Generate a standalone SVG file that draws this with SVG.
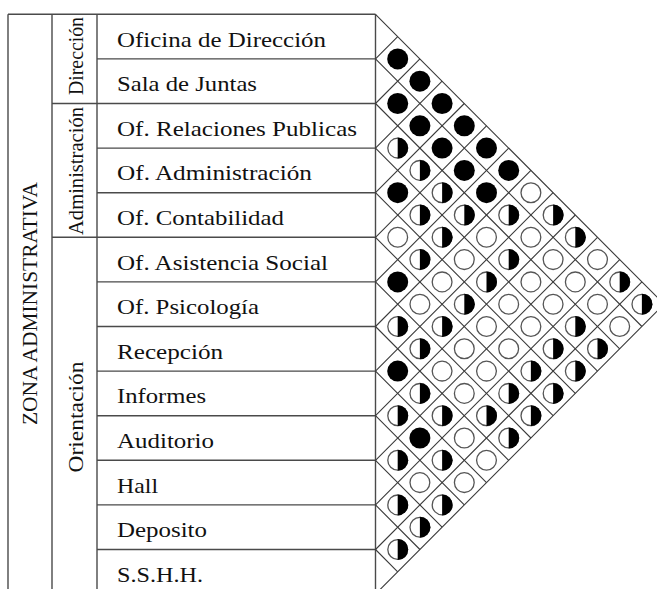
<svg xmlns="http://www.w3.org/2000/svg" xmlns:xlink="http://www.w3.org/1999/xlink" width="657" height="589" viewBox="0 0 657 589">
<style>
.tbl{stroke:#4a4a4a;stroke-width:1.4;fill:none}
.grid{stroke:#3a3a3a;stroke-width:1.1;fill:none}
.lbl{font-family:"Liberation Serif","Times New Roman",serif;font-size:21px;fill:#111}
.vl{font-family:"Liberation Serif","Times New Roman",serif;font-size:22px;fill:#111;text-anchor:middle}
</style>
<defs>
<g id="cb"><circle r="10.5" fill="#000"/></g>
<g id="co"><circle r="9.9" fill="#fff" stroke="#555" stroke-width="1.3"/></g>
<g id="ch"><circle r="9.9" fill="#fff" stroke="#555" stroke-width="1.3"/><path d="M0,-10.5 A10.5,10.5 0 0 1 0,10.5 Z" fill="#000"/></g>
</defs>
<rect width="657" height="589" fill="#fff"/>

<g id="table-frame" class="tbl">
<path d="M8,14.3V594 M52,14.3V594 M97,14.3V594 M375.5,14.3V594 M8,14.3H375.5"/>
<path d="M52,103.5H375.5 M52,237.3H375.5"/>
<path d="M97,58.9H375.5 M97,148.1H375.5 M97,192.7H375.5 M97,281.9H375.5 M97,326.5H375.5 M97,371.1H375.5 M97,415.7H375.5 M97,460.3H375.5 M97,504.9H375.5 M97,549.5H375.5"/>
</g>

<g id="zona"><text class="vl" transform="translate(37,303.5) rotate(-90)" textLength="243" lengthAdjust="spacingAndGlyphs">ZONA ADMINISTRATIVA</text></g>
<g id="grp-direccion"><text class="vl" transform="translate(83,56) rotate(-90)" textLength="78" lengthAdjust="spacingAndGlyphs">Dirección</text></g>
<g id="grp-administracion"><text class="vl" transform="translate(83,171) rotate(-90)" textLength="128" lengthAdjust="spacingAndGlyphs">Administración</text></g>
<g id="grp-orientacion"><text class="vl" transform="translate(83,417) rotate(-90)" textLength="111" lengthAdjust="spacingAndGlyphs">Orientación</text></g>

<g id="r0"><text class="lbl" x="117" y="46.6" textLength="209" lengthAdjust="spacingAndGlyphs">Oficina de Dirección</text></g>
<g id="r1"><text class="lbl" x="117" y="91.2" textLength="140" lengthAdjust="spacingAndGlyphs">Sala de Juntas</text></g>
<g id="r2"><text class="lbl" x="117" y="135.8" textLength="240" lengthAdjust="spacingAndGlyphs">Of. Relaciones Publicas</text></g>
<g id="r3"><text class="lbl" x="117" y="180.4" textLength="195" lengthAdjust="spacingAndGlyphs">Of. Administración</text></g>
<g id="r4"><text class="lbl" x="117" y="225" textLength="167" lengthAdjust="spacingAndGlyphs">Of. Contabilidad</text></g>
<g id="r5"><text class="lbl" x="117" y="269.6" textLength="211" lengthAdjust="spacingAndGlyphs">Of. Asistencia Social</text></g>
<g id="r6"><text class="lbl" x="117" y="314.2" textLength="142" lengthAdjust="spacingAndGlyphs">Of. Psicología</text></g>
<g id="r7"><text class="lbl" x="117" y="358.8" textLength="106" lengthAdjust="spacingAndGlyphs">Recepción</text></g>
<g id="r8"><text class="lbl" x="117" y="403.4" textLength="89" lengthAdjust="spacingAndGlyphs">Informes</text></g>
<g id="r9"><text class="lbl" x="117" y="448" textLength="97" lengthAdjust="spacingAndGlyphs">Auditorio</text></g>
<g id="r10"><text class="lbl" x="117" y="492.6" textLength="41" lengthAdjust="spacingAndGlyphs">Hall</text></g>
<g id="r11"><text class="lbl" x="117" y="537.2" textLength="90" lengthAdjust="spacingAndGlyphs">Deposito</text></g>
<g id="r12"><text class="lbl" x="117" y="581.8" textLength="86" lengthAdjust="spacingAndGlyphs">S.S.H.H.</text></g>

<g id="connectors" class="grid">
<path d="M375.5,14.3L664.1,304.2 M375.5,58.9L641.9,326.5 M375.5,103.5L619.7,348.8 M375.5,148.1L597.5,371.1 M375.5,192.7L575.3,393.4 M375.5,237.3L553.1,415.7 M375.5,281.9L530.9,438 M375.5,326.5L508.7,460.3 M375.5,371.1L486.5,482.6 M375.5,415.7L464.3,504.9 M375.5,460.3L442.1,527.2 M375.5,504.9L419.9,549.5 M375.5,549.5L397.7,571.8"/>
<path d="M375.5,58.9L397.7,36.6 M375.5,103.5L419.9,58.9 M375.5,148.1L442.1,81.2 M375.5,192.7L464.3,103.5 M375.5,237.3L486.5,125.8 M375.5,281.9L508.7,148.1 M375.5,326.5L530.9,170.4 M375.5,371.1L553.1,192.7 M375.5,415.7L575.3,215 M375.5,460.3L597.5,237.3 M375.5,504.9L619.7,259.6 M375.5,549.5L641.9,281.9 M375.5,594.1L664.1,304.2"/>
</g>

<g id="relations">
<use xlink:href="#cb" x="397.7" y="58.9"/>
<use xlink:href="#cb" x="419.9" y="81.2"/>
<use xlink:href="#cb" x="442.1" y="103.5"/>
<use xlink:href="#cb" x="464.3" y="125.8"/>
<use xlink:href="#cb" x="486.5" y="148.1"/>
<use xlink:href="#cb" x="508.7" y="170.4"/>
<use xlink:href="#co" x="530.9" y="192.7"/>
<use xlink:href="#ch" x="553.1" y="215"/>
<use xlink:href="#ch" x="575.3" y="237.3"/>
<use xlink:href="#co" x="597.5" y="259.6"/>
<use xlink:href="#ch" x="619.7" y="281.9"/>
<use xlink:href="#ch" x="641.9" y="304.2"/>

<use xlink:href="#cb" x="397.7" y="103.5"/>
<use xlink:href="#cb" x="419.9" y="125.8"/>
<use xlink:href="#cb" x="442.1" y="148.1"/>
<use xlink:href="#cb" x="464.3" y="170.4"/>
<use xlink:href="#cb" x="486.5" y="192.7"/>
<use xlink:href="#ch" x="508.7" y="215"/>
<use xlink:href="#co" x="530.9" y="237.3"/>
<use xlink:href="#co" x="553.1" y="259.6"/>
<use xlink:href="#co" x="575.3" y="281.9"/>
<use xlink:href="#co" x="597.5" y="304.2"/>
<use xlink:href="#co" x="619.7" y="326.5"/>

<use xlink:href="#ch" x="397.7" y="148.1"/>
<use xlink:href="#ch" x="419.9" y="170.4"/>
<use xlink:href="#ch" x="442.1" y="192.7"/>
<use xlink:href="#ch" x="464.3" y="215"/>
<use xlink:href="#co" x="486.5" y="237.3"/>
<use xlink:href="#ch" x="508.7" y="259.6"/>
<use xlink:href="#co" x="530.9" y="281.9"/>
<use xlink:href="#co" x="553.1" y="304.2"/>
<use xlink:href="#ch" x="575.3" y="326.5"/>
<use xlink:href="#ch" x="597.5" y="348.8"/>

<use xlink:href="#cb" x="397.7" y="192.7"/>
<use xlink:href="#ch" x="419.9" y="215"/>
<use xlink:href="#ch" x="442.1" y="237.3"/>
<use xlink:href="#co" x="464.3" y="259.6"/>
<use xlink:href="#ch" x="486.5" y="281.9"/>
<use xlink:href="#co" x="508.7" y="304.2"/>
<use xlink:href="#co" x="530.9" y="326.5"/>
<use xlink:href="#ch" x="553.1" y="348.8"/>
<use xlink:href="#ch" x="575.3" y="371.1"/>

<use xlink:href="#co" x="397.7" y="237.3"/>
<use xlink:href="#ch" x="419.9" y="259.6"/>
<use xlink:href="#co" x="442.1" y="281.9"/>
<use xlink:href="#ch" x="464.3" y="304.2"/>
<use xlink:href="#co" x="486.5" y="326.5"/>
<use xlink:href="#co" x="508.7" y="348.8"/>
<use xlink:href="#ch" x="530.9" y="371.1"/>
<use xlink:href="#ch" x="553.1" y="393.4"/>

<use xlink:href="#cb" x="397.7" y="281.9"/>
<use xlink:href="#co" x="419.9" y="304.2"/>
<use xlink:href="#ch" x="442.1" y="326.5"/>
<use xlink:href="#co" x="464.3" y="348.8"/>
<use xlink:href="#co" x="486.5" y="371.1"/>
<use xlink:href="#ch" x="508.7" y="393.4"/>
<use xlink:href="#ch" x="530.9" y="415.7"/>

<use xlink:href="#ch" x="397.7" y="326.5"/>
<use xlink:href="#ch" x="419.9" y="348.8"/>
<use xlink:href="#co" x="442.1" y="371.1"/>
<use xlink:href="#co" x="464.3" y="393.4"/>
<use xlink:href="#ch" x="486.5" y="415.7"/>
<use xlink:href="#ch" x="508.7" y="438"/>

<use xlink:href="#cb" x="397.7" y="371.1"/>
<use xlink:href="#ch" x="419.9" y="393.4"/>
<use xlink:href="#ch" x="442.1" y="415.7"/>
<use xlink:href="#co" x="464.3" y="438"/>
<use xlink:href="#co" x="486.5" y="460.3"/>

<use xlink:href="#ch" x="397.7" y="415.7"/>
<use xlink:href="#cb" x="419.9" y="438"/>
<use xlink:href="#ch" x="442.1" y="460.3"/>
<use xlink:href="#co" x="464.3" y="482.6"/>

<use xlink:href="#ch" x="397.7" y="460.3"/>
<use xlink:href="#co" x="419.9" y="482.6"/>
<use xlink:href="#ch" x="442.1" y="504.9"/>

<use xlink:href="#ch" x="397.7" y="504.9"/>
<use xlink:href="#ch" x="419.9" y="527.2"/>

<use xlink:href="#ch" x="397.7" y="549.5"/>
</g>
</svg>
